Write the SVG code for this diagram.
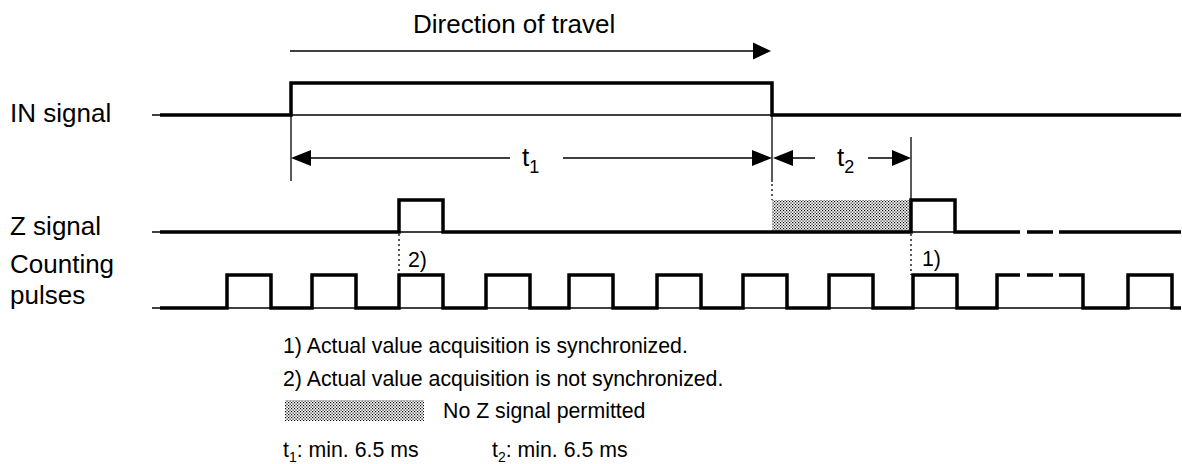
<svg xmlns="http://www.w3.org/2000/svg" width="1182" height="464" viewBox="0 0 1182 464">
<style>
.lbl{font-family:"Liberation Sans",Arial,sans-serif;font-size:26px;fill:#000}
.leg{font-family:"Liberation Sans",Arial,sans-serif;font-size:21.3px;fill:#000}
.sub{font-size:18px}
.thick{fill:none;stroke:#000;stroke-width:3.5;stroke-linejoin:miter}
.thin{fill:none;stroke:#000;stroke-width:1.3}
.dot{fill:none;stroke:#000;stroke-width:1.3;stroke-dasharray:2 3}
.ah{fill:#000}
</style>
<defs>
<pattern id="stip" width="3" height="3" patternUnits="userSpaceOnUse">
<rect x="0" y="0" width="1.2" height="1.2" fill="#000"/>
<rect x="1.5" y="1.5" width="1.2" height="1.2" fill="#000"/>
</pattern>
</defs>
<rect width="1182" height="464" fill="#fff"/>

<g id="title">
<text class="lbl" x="413" y="33">Direction of travel</text>
</g>

<g id="in-signal">
<text class="lbl" x="10" y="122">IN signal</text>
<path class="thin" d="M152,115 H1181"/>
<path class="thick" d="M160,115 H291 V83 H772 V115 H1181"/>
</g>

<g id="z-signal">
<text class="lbl" x="10" y="235">Z signal</text>
<rect x="772" y="200" width="139" height="32" fill="url(#stip)"/>
<path class="thin" d="M152,232 H1020 M1027,232 H1053 M1059,232 H1181"/>
<path class="thick" d="M160,232 H399 V200 H443 V232 H911 V200 H955 V232 H1020 M1027,232 H1053 M1059,232 H1181"/>
</g>

<g id="counting-pulses">
<text class="lbl" x="10" y="273">Counting</text>
<text class="lbl" x="10" y="304">pulses</text>
<path class="thin" d="M152,308 H1181"/>
<path class="thick" d="M160,308 H227 V275 H271 V308 H312 V275 H356 V308 H399 V275 H443 V308 H486 V275 H530 V308 H569 V275 H613 V308 H657 V275 H701 V308 H743 V275 H787 V308 H829 V275 H873 V308 H913 V275 H957 V308 H997 V275 H1020 M1027,275 H1053 M1059,275 H1083 V308 H1128 V275 H1172 V308 H1181"/>
</g>

<g id="connectors">
<path class="thin" d="M290,51 H754"/>
<polygon class="ah" points="771,51 753,42.5 753,59.5"/>
<path class="thin" d="M291,83 V181"/>
<path class="thin" d="M772,115 V182"/>
<path class="dot" d="M772,184 V200"/>
<path class="thin" d="M911,137 V200"/>
<path class="dot" d="M399,234 V275"/>
<path class="dot" d="M911,234 V275"/>
<path class="thin" d="M310,158 H510 M563,158 H754"/>
<polygon class="ah" points="291,158 311,150 311,166"/>
<polygon class="ah" points="772,158 752,150 752,166"/>
<path class="thin" d="M792,158 H815 M868,158 H894"/>
<polygon class="ah" points="773,158 793,150 793,166"/>
<polygon class="ah" points="911,158 892,150 892,166"/>
<text class="lbl" x="522" y="166">t<tspan class="sub" dy="7">1</tspan></text>
<text class="lbl" x="837" y="166">t<tspan class="sub" dy="7">2</tspan></text>
<text class="leg" x="408" y="267">2)</text>
<text class="leg" x="922" y="266">1)</text>
</g>

<g id="legend">
<text class="leg" x="283" y="353">1) Actual value acquisition is synchronized.</text>
<text class="leg" x="283" y="386">2) Actual value acquisition is not synchronized.</text>
<rect x="285" y="400" width="139" height="21" fill="url(#stip)"/>
<text class="leg" x="443" y="418">No Z signal permitted</text>
<text class="leg" x="283" y="457">t<tspan font-size="14" dy="5">1</tspan><tspan dy="-5">: min. 6.5 ms</tspan></text>
<text class="leg" x="492" y="457">t<tspan font-size="14" dy="5">2</tspan><tspan dy="-5">: min. 6.5 ms</tspan></text>
</g>
</svg>
